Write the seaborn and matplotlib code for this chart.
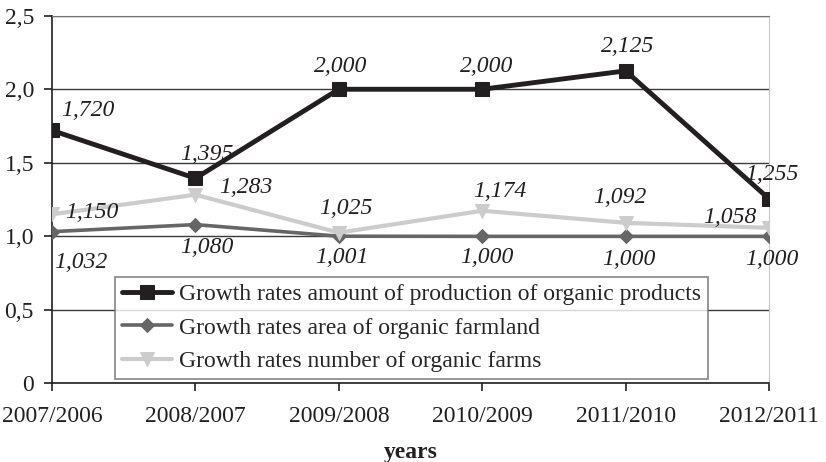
import matplotlib
matplotlib.use("Agg")
import matplotlib.pyplot as plt
import seaborn as sns

periods = ["2007/2006", "2008/2007", "2009/2008", "2010/2009", "2011/2010", "2012/2011"]
production = [1.720, 1.395, 2.000, 2.000, 2.125, 1.255]
farmland = [1.032, 1.080, 1.001, 1.000, 1.000, 1.000]
farms = [1.150, 1.283, 1.025, 1.174, 1.092, 1.058]

names = ["Growth rates amount of production of organic products",
         "Growth rates area of organic farmland",
         "Growth rates number of organic farms"]

sns.set_style("white")
plt.rcParams['font.family'] = ['Liberation Serif', 'DejaVu Serif']

fig, ax = plt.subplots(figsize=(8.26, 4.62), dpi=100)
fig.subplots_adjust(left=0.063, right=0.931, top=0.966, bottom=0.170)

x = list(range(len(periods)))

sns.lineplot(x=x, y=production, ax=ax, color='#231f20', lw=3.5, marker='s',
             markersize=9.5, markeredgecolor='#231f20', label=names[0], zorder=5)
sns.lineplot(x=x, y=farmland, ax=ax, color='#666666', lw=2.6, marker='D',
             markersize=7, markeredgecolor='#666666', label=names[1], zorder=3)
sns.lineplot(x=x, y=farms, ax=ax, color='#cccccc', lw=3, marker='v',
             markersize=10, markeredgecolor='#cccccc', label=names[2], zorder=4)

def fmt(v):
    return f"{v:.3f}".replace('.', ',')

lab_kw = dict(fontsize=17, style='italic', color='#231f20', zorder=6,
              ha='center', va='baseline')

# label offsets (x in categories, y in value units) relative to each point
prod_off = [(0.25, 0.10), (0.08, 0.127), (0.01, 0.114), (0.03, 0.114), (0.015, 0.125), (0.02, 0.131)]
farm_off = [(0.28, -0.023), (0.35, 0.014), (0.05, 0.129), (0.12, 0.096), (-0.04, 0.134), (-0.27, 0.034)]
land_off = [(0.2, -0.245), (0.08, -0.191), (0.02, -0.181), (0.03, -0.18), (0.02, -0.193), (0.02, -0.193)]

for vals, offs in [(production, prod_off), (farms, farm_off), (farmland, land_off)]:
    for i, v in enumerate(vals):
        dx, dy = offs[i]
        ax.text(i + dx, v + dy, fmt(v), **lab_kw)

ax.set_xlim(0, 5)
ax.set_ylim(0, 2.5)
ax.set_yticks([0, 0.5, 1.0, 1.5, 2.0, 2.5])
ax.set_yticklabels(["0", "0,5", "1,0", "1,5", "2,0", "2,5"], fontsize=17)
ax.set_xticks(x)
ax.set_xticklabels(periods, fontsize=17)
ax.yaxis.grid(True, color='#3a3a3a', lw=1)
ax.set_axisbelow(True)

for side in ['left', 'bottom']:
    ax.spines[side].set_color('#231f20')
    ax.spines[side].set_linewidth(1.2)
ax.spines['right'].set_color('#c8c8c8')
ax.spines['top'].set_color('#777777')
ax.tick_params(axis='both', direction='out', length=6, width=1.2, color='#231f20',
               bottom=True, left=True, labelcolor='#231f20')
ax.tick_params(axis='y', pad=7)
ax.tick_params(axis='x', pad=10)

ax.set_xlabel("years", fontsize=17, fontweight='bold', labelpad=11, color='#231f20')
ax.set_ylabel("")

leg = ax.legend(loc='lower left', bbox_to_anchor=(0.088, 0.012), fontsize=17,
                frameon=True, fancybox=False, handlelength=2.1, handletextpad=0.3,
                labelspacing=0.5, borderpad=0.3, borderaxespad=0)
leg.get_frame().set_edgecolor('#666666')
leg.get_frame().set_linewidth(1.2)
leg.set_zorder(10)

fig.savefig("out.png", dpi=100)
